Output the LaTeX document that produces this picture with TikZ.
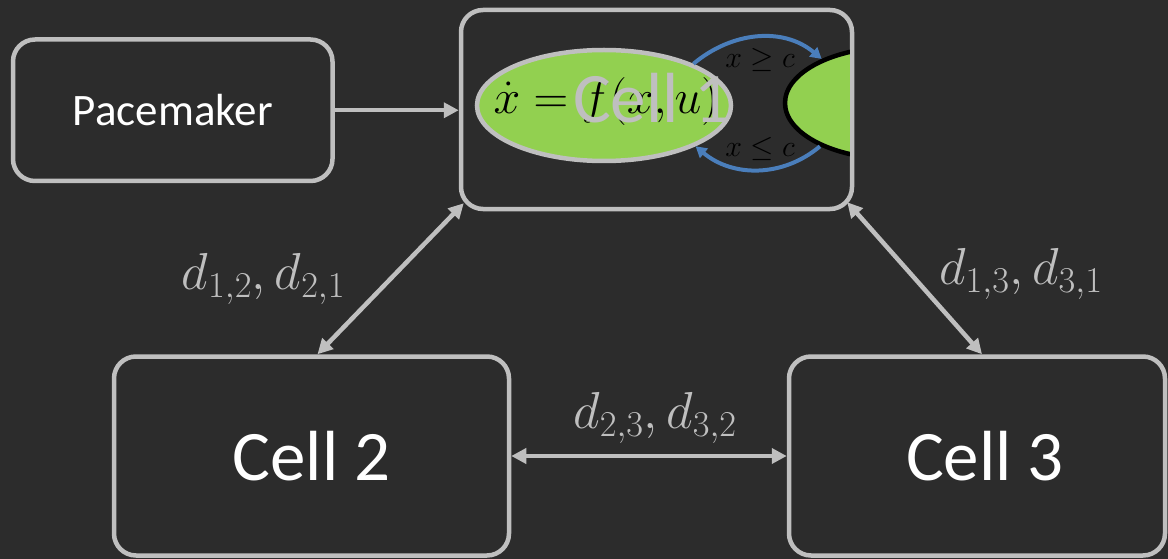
\RequirePackage{fix-cm}
\documentclass[tikz,border=0pt]{standalone}
\usepackage[no-math]{fontspec}
\setmainfont{Carlito}
\usepackage{tikz}
\usetikzlibrary{arrows.meta,positioning,shapes.geometric}

\definecolor{board}{RGB}{44,44,44}
\definecolor{chalk}{RGB}{191,191,191}
\definecolor{leaf}{RGB}{146,208,80}
\definecolor{sky}{RGB}{74,126,187}

\tikzset{
  cellbox/.style={draw=chalk, line width=4.5pt, rounded corners=22pt,
    text=white, font=\fontsize{71}{80}\selectfont},
  link/.style={chalk, line width=4.5pt},
  guard/.style={sky, line width=4pt, -{Triangle[length=11pt,width=12pt]}},
  dlabel/.style={text=chalk, font=\fontsize{52}{60}\selectfont},
  guardtext/.style={font=\fontsize{30}{36}\selectfont}
}

\begin{document}
\begin{tikzpicture}[x=1pt, y=1pt, >={Triangle[length=15pt,width=15pt]}]
  \useasboundingbox (0,0) rectangle (1168,-559);
  \fill[board] (0,0) rectangle (1168,-559);

  % boxes
  \node[cellbox, font=\fontsize{45}{54}\selectfont, minimum width=319.5pt, minimum height=141.5pt] (pace) at (172.75,-110.25) {Pacemaker};
  \node[cellbox, minimum width=391pt, minimum height=199pt] (cell1) at (656.5,-109.5) {};
  \node[cellbox, minimum width=395pt, minimum height=199pt] (cell2) at (311.5,-456) {Cell 2};
  \node[cellbox, minimum width=376pt, minimum height=199pt] (cell3) at (977,-456) {\hspace*{16pt}Cell 3};

  % inside cell 1
  \node[ellipse, draw=chalk, line width=4.5pt, fill=leaf, minimum width=254pt, minimum height=111pt] (flow) at (604,-105.5) {};
  \node[anchor=base, font=\fontsize{48}{56}\selectfont] (law) at (606,-114) {$\dot{x} = f(x,u)$};
  \begin{scope}
    \clip (cell1.north west) rectangle ([xshift=-4.5pt]cell1.south east);
    \node[ellipse, draw=black, line width=4.5pt, fill=leaf, minimum width=220pt, minimum height=112pt] (jump) at (895,-103) {};
  \end{scope}
  \draw[guard] (flow.25) to[out=40, in=140] (jump.149);
  \draw[guard] (jump.210) to[out=-140, in=-40] (flow.-24);
  \node[guardtext] (up) at (760,-60.5) {$x \geq c$};
  \node[guardtext] (down) at (760,-149.5) {$x \leq c$};
  \node[anchor=base, text=chalk, font=\fontsize{71}{80}\selectfont] (name1) at (652,-123) {Cell 1};

  % connections
  \draw[link, ->] (pace) -- (pace -| cell1.west);
  \draw[link, <->] ([shift={(5,8)}]cell1.south west) -- node[dlabel, left=40pt] {$d_{1,2}, d_{2,1}$} ([xshift=6pt]cell2.north);
  \draw[link, <->] ([shift={(-7,9)}]cell1.south east) -- node[dlabel, right=19pt, yshift=4pt] {$d_{1,3}, d_{3,1}$} ([xshift=5pt]cell3.north);
  \draw[link, <->] (cell2.east) -- node[dlabel, above=7pt, xshift=6pt] {$d_{2,3}, d_{3,2}$} (cell2.east -| cell3.west);
\end{tikzpicture}
\end{document}
